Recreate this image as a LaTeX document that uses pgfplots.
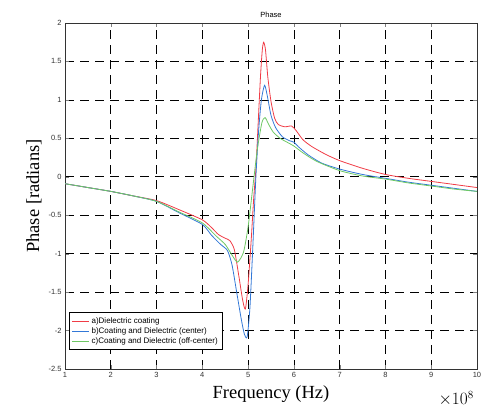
\documentclass[border=0pt]{standalone}
\usepackage{fontspec}
\setmainfont{Liberation Serif}
\newfontfamily\hel{Liberation Sans}
\usepackage{pgfplots}
\pgfplotsset{compat=1.18}
\definecolor{cred}{RGB}{240,60,70}
\definecolor{cblue}{RGB}{50,120,215}
\definecolor{cgreen}{RGB}{110,200,100}
\begin{document}
\begin{tikzpicture}
\begin{axis}[
  at={(0,0)}, anchor=south west,
  scale only axis, width=412pt, height=346pt,
  xmin=1, xmax=10, ymin=-2.5, ymax=2,
  xtick={1,2,...,10}, ytick={-2.5,-2,-1.5,-1,-0.5,0,0.5,1,1.5,2},
  /pgf/number format/assume math mode=true,
  tick label style={font=\hel\fontsize{7.5}{9}\selectfont, text=black!80},
  yticklabel style={/pgf/number format/fixed},
  tick align=inside, major tick length=4pt,
  grid=major,
  major grid style={black, line width=0.6pt, dash pattern=on 9pt off 6pt},
  axis line style={black!80, line width=0.8pt},
  title={Phase}, title style={font=\hel\fontsize{7.5}{9}\selectfont, yshift=-4pt},
  xlabel={Frequency (Hz)}, xlabel style={font=\fontsize{18.5}{20}\selectfont, yshift=-1pt},
  ylabel={Phase [radians]}, ylabel style={font=\fontsize{18.5}{20}\selectfont, yshift=0pt},
  legend style={at={(rel axis cs:0.01,0.055)}, anchor=south west,
    font=\hel\fontsize{8}{9.5}\selectfont, draw=black, line width=0.6pt,
    row sep=-1pt, inner sep=2.5pt},
  legend cell align=left,
  legend image post style={line width=0.6pt},
]
\addplot[cred, line width=0.8pt, smooth, tension=0.4] coordinates {
(1,-0.09) (1.5,-0.14) (2,-0.19) (2.5,-0.25) (3,-0.31) (3.5,-0.43) (4,-0.56) (4.2,-0.66) (4.35,-0.75) (4.5,-0.8) (4.6,-0.83) (4.7,-0.95) (4.8,-1.3) (4.88,-1.6) (4.94,-1.72) (5.0,-1.4) (5.07,-0.8) (5.12,-0.3) (5.17,0.1) (5.22,0.7) (5.27,1.3) (5.31,1.65) (5.34,1.75) (5.38,1.65) (5.43,1.3) (5.5,0.98) (5.58,0.76) (5.66,0.68) (5.8,0.65) (5.95,0.66) (6.05,0.6) (6.2,0.48) (6.4,0.39) (6.7,0.29) (7,0.21) (7.5,0.11) (8,0.03) (8.5,-0.02) (9,-0.06) (9.5,-0.1) (10,-0.14)
};
\addlegendentry{a)Dielectric coating}
\addplot[cblue, line width=0.8pt, smooth, tension=0.4] coordinates {
(1,-0.09) (1.5,-0.14) (2,-0.19) (2.5,-0.25) (3,-0.32) (3.5,-0.47) (4,-0.62) (4.2,-0.76) (4.4,-0.88) (4.55,-0.96) (4.65,-1.15) (4.75,-1.5) (4.85,-1.85) (4.92,-2.05) (4.98,-2.08) (5.04,-1.7) (5.1,-0.95) (5.17,0.0) (5.23,0.6) (5.29,1.0) (5.36,1.19) (5.42,1.05) (5.5,0.8) (5.6,0.64) (5.75,0.52) (5.9,0.47) (6.0,0.45) (6.1,0.39) (6.3,0.29) (6.6,0.18) (7,0.1) (7.5,0.03) (8,-0.02) (8.5,-0.07) (9,-0.11) (9.5,-0.15) (10,-0.19)
};
\addlegendentry{b)Coating and Dielectric (center)}
\addplot[cgreen, line width=0.8pt, smooth, tension=0.4] coordinates {
(1,-0.09) (1.5,-0.14) (2,-0.19) (2.5,-0.25) (3,-0.32) (3.5,-0.46) (4,-0.6) (4.3,-0.77) (4.5,-0.88) (4.65,-1.02) (4.77,-1.11) (4.9,-0.98) (5.0,-0.65) (5.1,-0.15) (5.2,0.35) (5.3,0.7) (5.37,0.77) (5.45,0.68) (5.55,0.58) (5.7,0.5) (5.85,0.45) (6.0,0.4) (6.2,0.31) (6.5,0.2) (7,0.08) (7.5,0.01) (8,-0.03) (8.5,-0.08) (9,-0.12) (9.5,-0.16) (10,-0.19)
};
\addlegendentry{c)Coating and Dielectric (off-center)}
\end{axis}
\node[anchor=base west, font=\fontsize{16}{18}\selectfont] at (370pt,-36pt) {$\times10^{8}$};
\pgfresetboundingbox
\path (-65pt,-45pt) rectangle (419pt,369pt);
\end{tikzpicture}
\end{document}
